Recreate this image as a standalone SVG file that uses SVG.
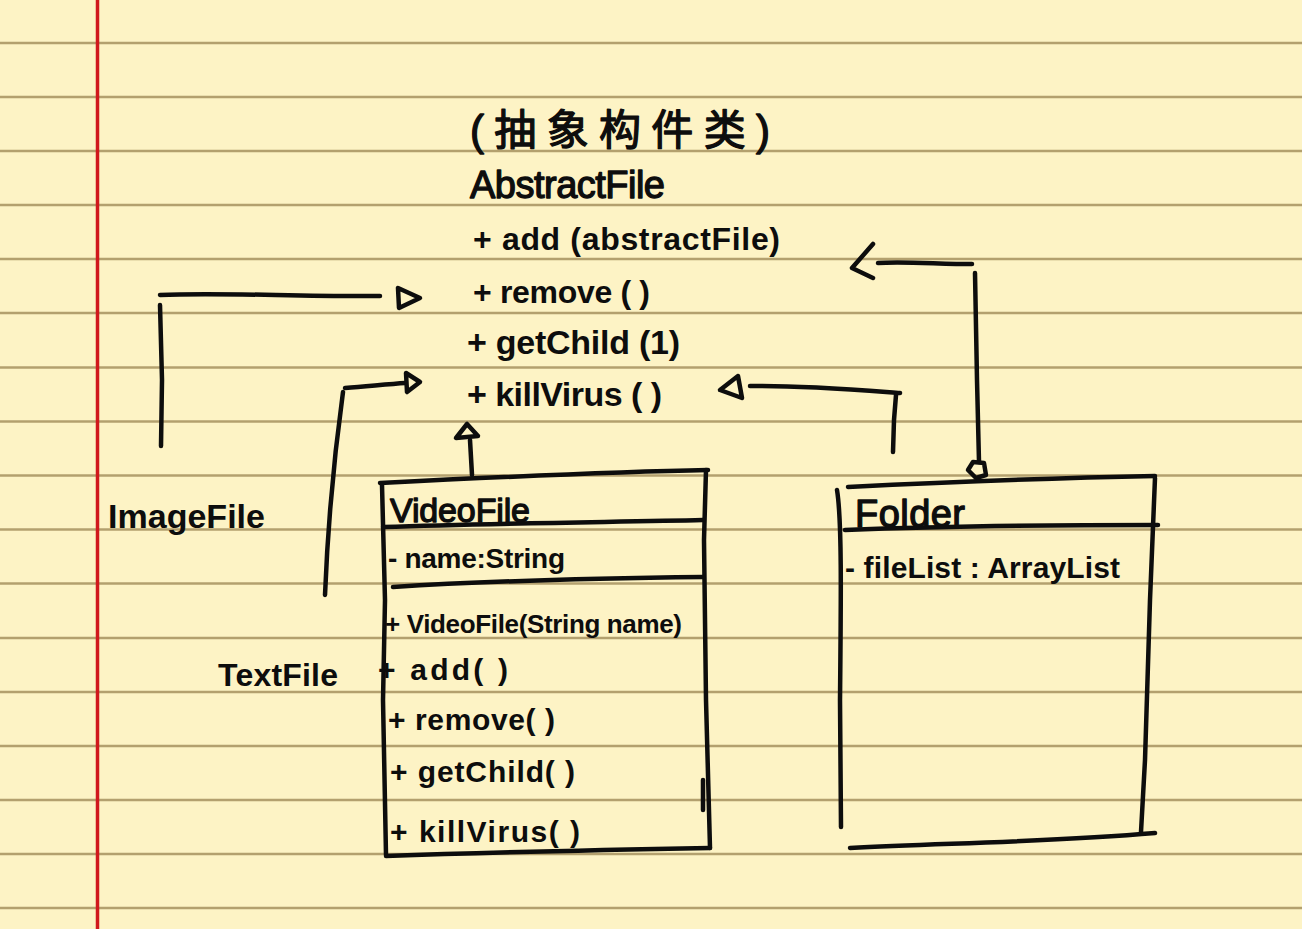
<svg xmlns="http://www.w3.org/2000/svg" width="1302" height="929" viewBox="0 0 1302 929">
<defs>
<style>
.rule{stroke:#b3a06e;stroke-width:2.5}
.ink{fill:none;stroke:#0d0d0d;stroke-width:4.5;stroke-linecap:round;stroke-linejoin:round}
.t{font-family:"Liberation Sans","Noto Sans CJK SC",sans-serif;fill:#0d0d0d;font-weight:bold}
.n{font-weight:normal;stroke:#0d0d0d;stroke-width:1.3;stroke-linejoin:round}
</style>
</defs>
<rect x="0" y="0" width="1302" height="929" fill="#fdf3c5"/>
<g id="paper">
<line class="rule" x1="0" y1="43" x2="1302" y2="43"/>
<line class="rule" x1="0" y1="97" x2="1302" y2="97"/>
<line class="rule" x1="0" y1="151" x2="1302" y2="151"/>
<line class="rule" x1="0" y1="205" x2="1302" y2="205"/>
<line class="rule" x1="0" y1="259" x2="1302" y2="259"/>
<line class="rule" x1="0" y1="313" x2="1302" y2="313"/>
<line class="rule" x1="0" y1="367.5" x2="1302" y2="367.5"/>
<line class="rule" x1="0" y1="421.5" x2="1302" y2="421.5"/>
<line class="rule" x1="0" y1="475.5" x2="1302" y2="475.5"/>
<line class="rule" x1="0" y1="529.5" x2="1302" y2="529.5"/>
<line class="rule" x1="0" y1="583.5" x2="1302" y2="583.5"/>
<line class="rule" x1="0" y1="638" x2="1302" y2="638"/>
<line class="rule" x1="0" y1="692" x2="1302" y2="692"/>
<line class="rule" x1="0" y1="746" x2="1302" y2="746"/>
<line class="rule" x1="0" y1="800" x2="1302" y2="800"/>
<line class="rule" x1="0" y1="854" x2="1302" y2="854"/>
<line class="rule" x1="0" y1="908" x2="1302" y2="908"/>
<line x1="97.5" y1="0" x2="97.5" y2="929" stroke="#d0181c" stroke-width="3.5"/>
</g>

<g id="connectors">
<path class="ink" d="M161,446 L162,380 L160,305"/>
<path class="ink" d="M160,295 C220,292 300,297 380,296"/>
<path class="ink" d="M398,288 L399,308 L420,298 Z"/>
<path class="ink" d="M325,595 C328,520 335,450 343,392"/>
<path class="ink" d="M345,388 C370,386 390,384 405,383"/>
<path class="ink" d="M406,373 L420,382 L407,392 Z"/>
<path class="ink" d="M472,475 L470,440"/>
<path class="ink" d="M467,424 L456,438 L478,436 Z"/>
<path class="ink" d="M893,452 L894,420 L896,395"/>
<path class="ink" d="M900,393 C860,390 800,385 750,386"/>
<path class="ink" d="M738,376 L720,390 L742,398 Z"/>
<path class="ink" d="M878,263 C900,261 940,264 972,264"/>
<path class="ink" d="M975,273 L977,380 L979,462"/>
<path class="ink" d="M873,244 L852,268 L873,278"/>
<path class="ink" d="M968,470 L973,462 L984,463 L986,475 L976,478 Z"/>
</g>

<g id="abstract-file">
<text class="t n" x="470" y="145" font-size="42" textLength="300">(抽象构件类)</text>
<text class="t n" x="470" y="198" font-size="38" textLength="195">AbstractFile</text>
<text class="t" x="473" y="250" font-size="32" textLength="307">+ add (abstractFile)</text>
<text class="t" x="473" y="303" font-size="32" textLength="177">+ remove ( )</text>
<text class="t" x="467" y="354" font-size="34" textLength="213">+ getChild (1)</text>
<text class="t" x="467" y="406" font-size="34" textLength="195">+ killVirus ( )</text>
</g>

<g id="image-file">
<text class="t" x="108" y="528" font-size="34" textLength="157">ImageFile</text>
</g>

<g id="text-file">
<text class="t" x="218" y="686" font-size="32" textLength="120">TextFile</text>
</g>

<g id="video-file">
<path class="ink" d="M380,483 C480,478 600,472 708,470"/>
<path class="ink" d="M382,485 L385,600 L383,700 L386,855"/>
<path class="ink" d="M706,470 L704,540 L706,700 L710,848"/>
<path class="ink" d="M703,780 L703,810"/>
<path class="ink" d="M386,856 C500,852 600,850 710,848"/>
<path class="ink" d="M383,527 C500,523 620,522 703,520"/>
<path class="ink" d="M393,587 C500,580 620,578 703,577"/>
<text class="t n" x="390" y="522" font-size="34" textLength="140">VideoFile</text>
<text class="t" x="388" y="568" font-size="28" textLength="177">- name:String</text>
<text class="t" x="385" y="633" font-size="26" textLength="297">+ VideoFile(String name)</text>
<text class="t" x="378" y="680" font-size="30" textLength="130">+ add( )</text>
<text class="t" x="388" y="730" font-size="30" textLength="167">+ remove( )</text>
<text class="t" x="390" y="782" font-size="30" textLength="185">+ getChild( )</text>
<text class="t" x="390" y="842" font-size="30" textLength="190">+ killVirus( )</text>
</g>

<g id="folder">
<path class="ink" d="M848,487 C950,482 1050,478 1155,476"/>
<path class="ink" d="M837,490 C842,520 841,600 840,700 L841,827"/>
<path class="ink" d="M1155,478 L1150,600 L1145,760 L1141,832"/>
<path class="ink" d="M845,530 C950,526 1050,525 1158,525"/>
<path class="ink" d="M850,848 C950,843 1050,842 1155,833"/>
<text class="t n" x="855" y="527" font-size="38" textLength="110">Folder</text>
<text class="t" x="845" y="578" font-size="30" textLength="275">- fileList : ArrayList</text>
</g>
</svg>
